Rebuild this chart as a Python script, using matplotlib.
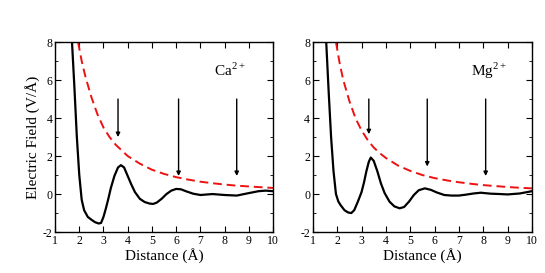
import numpy as np
import matplotlib.pyplot as plt
from matplotlib.ticker import MultipleLocator

plt.rcParams['font.family'] = ['Liberation Serif', 'DejaVu Serif']
plt.rcParams['axes.unicode_minus'] = False
plt.rcParams['mathtext.fontset'] = 'custom'
plt.rcParams['mathtext.rm'] = 'Liberation Serif'

# ====== Ca2+ ======
ca_x = [1.70, 1.80, 1.90, 2.00, 2.10, 2.20, 2.35, 2.50, 2.65, 2.80, 2.90, 3.00,
        3.10, 3.20, 3.30, 3.45, 3.60, 3.72, 3.85, 4.00, 4.15, 4.30, 4.50, 4.70,
        4.90, 5.05, 5.20, 5.40, 5.60, 5.80, 6.00, 6.20, 6.40, 6.70, 7.00, 7.50,
        8.00, 8.50, 9.00, 9.40, 9.70, 10.0]
ca_y = [8.0, 5.6, 3.0, 1.0, -0.3, -0.85, -1.2, -1.35, -1.48, -1.55, -1.52, -1.2,
        -0.75, -0.25, 0.3, 0.95, 1.4, 1.52, 1.4, 0.95, 0.5, 0.1, -0.25, -0.42,
        -0.5, -0.52, -0.45, -0.25, 0.0, 0.18, 0.27, 0.25, 0.15, 0.02, -0.05, 0.0,
        -0.05, -0.08, 0.05, 0.15, 0.18, 0.15]
ca_dash_x = [1.95, 2.1, 2.25, 2.5, 2.75, 3.0, 3.25, 3.5, 3.75, 4.0, 4.5, 5.0,
             5.5, 6.0, 6.5, 7.0, 7.5, 8.0, 8.5, 9.0, 9.5, 10.0]
ca_dash_y = [8.0, 7.0, 6.2, 5.1, 4.2, 3.5, 3.0, 2.6, 2.3, 2.0, 1.6, 1.28,
             1.06, 0.89, 0.76, 0.65, 0.57, 0.5, 0.44, 0.4, 0.36, 0.32]
ca_arrow_x = [3.6, 6.1, 8.5]
ca_arrow_tip = [3.0, 0.95, 0.95]

# ====== Mg2+ ======
mg_x = [1.55, 1.65, 1.75, 1.85, 1.95, 2.05, 2.15, 2.30, 2.45, 2.58, 2.70, 2.85,
        3.00, 3.10, 3.20, 3.30, 3.38, 3.50, 3.65, 3.80, 3.95, 4.15, 4.35, 4.57,
        4.75, 4.95, 5.15, 5.35, 5.60, 5.85, 6.10, 6.40, 6.70, 7.00, 7.30, 7.60,
        7.90, 8.30, 8.70, 9.00, 9.50, 10.0]
mg_y = [8.0, 5.4, 3.0, 1.2, 0.0, -0.4, -0.6, -0.85, -0.97, -1.0, -0.85, -0.4,
        0.1, 0.6, 1.2, 1.7, 1.92, 1.75, 1.2, 0.55, 0.05, -0.4, -0.65, -0.75,
        -0.68, -0.4, -0.05, 0.2, 0.3, 0.22, 0.08, -0.05, -0.08, -0.08, -0.03, 0.03,
        0.07, 0.02, 0.0, -0.02, 0.03, 0.15]
mg_dash_x = [1.95, 2.1, 2.25, 2.5, 2.75, 3.0, 3.25, 3.5, 3.75, 4.0, 4.5, 5.0,
             5.5, 6.0, 6.5, 7.0, 7.5, 8.0, 8.5, 9.0, 9.5, 10.0]
mg_dash_y = [8.0, 6.9, 6.0, 4.9, 4.0, 3.35, 2.85, 2.45, 2.15, 1.9, 1.5, 1.22,
             1.0, 0.84, 0.72, 0.62, 0.54, 0.47, 0.42, 0.37, 0.33, 0.3]
mg_arrow_x = [3.3, 5.7, 8.1]
mg_arrow_tip = [3.15, 1.45, 0.95]

arrow_top = 5.0

panels = [
    (ca_x, ca_y, ca_dash_x, ca_dash_y, ca_arrow_x, ca_arrow_tip, "Ca$^{2+}$", 7.55),
    (mg_x, mg_y, mg_dash_x, mg_dash_y, mg_arrow_x, mg_arrow_tip, "Mg$^{2+}$", 7.5),
]

fig = plt.figure(figsize=(5.45, 2.73), dpi=100)
rects = [[0.101, 0.150, 0.400, 0.696], [0.574, 0.150, 0.402, 0.696]]

for i, (x, y, dx, dy, ax_x, ax_tip, label, lx) in enumerate(panels):
    ax = fig.add_axes(rects[i])
    ax.plot(x, y, color="black", lw=1.6)
    ax.plot(dx, dy, color="#ee1111", lw=1.4, ls=(0, (4.5, 2.5)))
    for xa, tip in zip(ax_x, ax_tip):
        ax.annotate("", xy=(xa, tip), xytext=(xa, arrow_top),
                    arrowprops=dict(arrowstyle="-|>", color="black", lw=1.0,
                                    mutation_scale=6, shrinkA=0, shrinkB=0))
    ax.text(lx, 6.5, label, fontsize=11, va="center", ha="left")
    ax.set_xlim(1, 10)
    ax.set_ylim(-2, 8)
    ax.xaxis.set_major_locator(MultipleLocator(1))
    ax.yaxis.set_major_locator(MultipleLocator(2))
    ax.yaxis.set_minor_locator(MultipleLocator(1))
    ax.tick_params(which="both", direction="in", top=True, right=True,
                   labelsize=8.5, pad=2)
    ax.tick_params(which="major", length=4)
    ax.tick_params(which="minor", length=2.5)
    ax.set_xlabel("Distance (Å)", fontsize=11, labelpad=1)
    if i == 0:
        ax.set_ylabel("Electric Field (V/Å)", fontsize=11, labelpad=2)
    for s in ax.spines.values():
        s.set_linewidth(1.0)

fig.savefig("out.png", dpi=100)
